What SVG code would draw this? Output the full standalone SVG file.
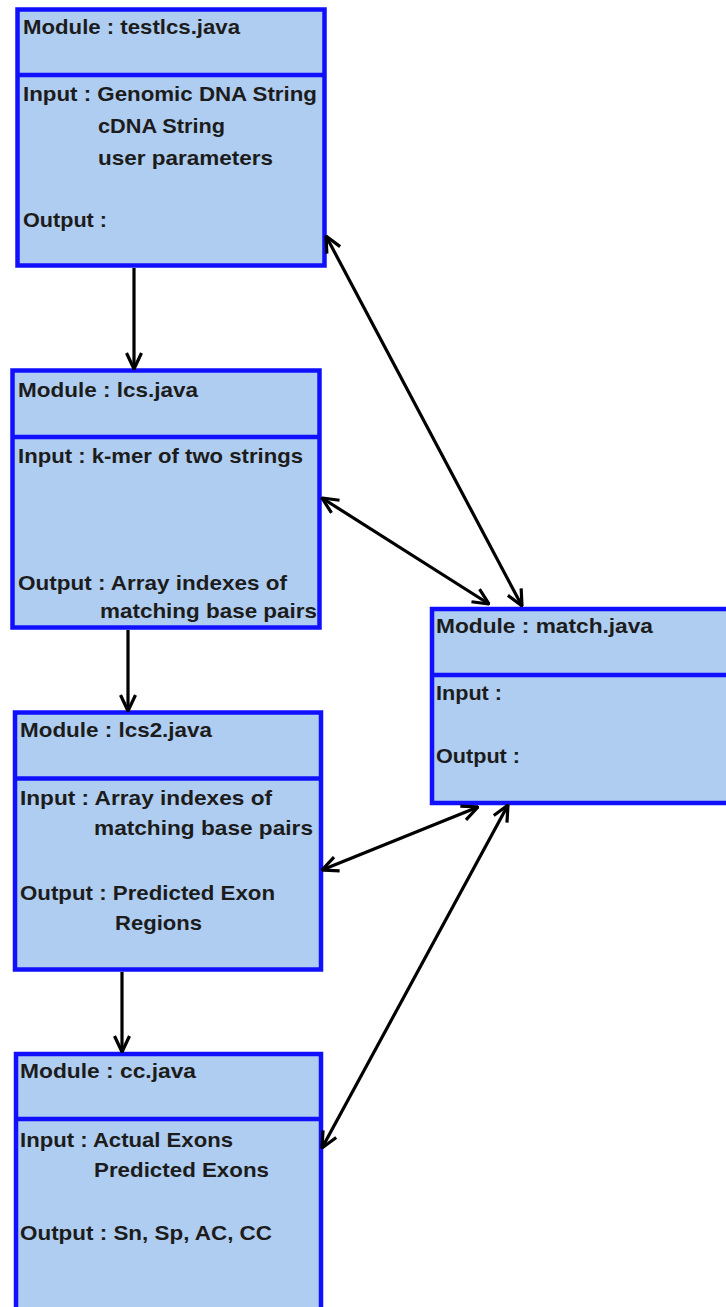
<svg xmlns="http://www.w3.org/2000/svg" width="726" height="1307" viewBox="0 0 726 1307">
<style>
.box{fill:#afcdf0;stroke:#1010ff;stroke-width:4.5}
.div{stroke:#1010ff;stroke-width:4.5}
text{font-family:"Liberation Sans",Arial,sans-serif;font-weight:bold;font-size:21px;fill:#1c1c1c}
.con line{stroke:#000;stroke-width:3.2}
</style>
<defs>
<marker id="ah" viewBox="0 0 18 18" refX="17" refY="9" markerWidth="18" markerHeight="18" markerUnits="userSpaceOnUse" orient="auto-start-reverse">
<path d="M1,1.5 L17,9 L1,16.5" fill="none" stroke="#000" stroke-width="3.2"/>
</marker>
</defs>
<rect width="726" height="1307" fill="#fff"/>
<g id="testlcs">
<rect class="box" x="17.5" y="9.5" width="307" height="256"/>
<line class="div" x1="17.5" y1="75" x2="324.5" y2="75"/>
<text x="23" y="34" textLength="217" lengthAdjust="spacingAndGlyphs">Module : testlcs.java</text>
<text x="23" y="101" textLength="294" lengthAdjust="spacingAndGlyphs">Input : Genomic DNA String</text>
<text x="98" y="133" textLength="127" lengthAdjust="spacingAndGlyphs">cDNA String</text>
<text x="98" y="165" textLength="175" lengthAdjust="spacingAndGlyphs">user parameters</text>
<text x="23" y="227" textLength="84" lengthAdjust="spacingAndGlyphs">Output :</text>
</g>
<g id="lcs">
<rect class="box" x="12.5" y="370.5" width="307" height="257"/>
<line class="div" x1="12.5" y1="437" x2="319.5" y2="437"/>
<text x="18" y="397" textLength="180" lengthAdjust="spacingAndGlyphs">Module : lcs.java</text>
<text x="18" y="463" textLength="285" lengthAdjust="spacingAndGlyphs">Input : k-mer of two strings</text>
<text x="18" y="590" textLength="269" lengthAdjust="spacingAndGlyphs">Output : Array indexes of</text>
<text x="100" y="618" textLength="217" lengthAdjust="spacingAndGlyphs">matching base pairs</text>
</g>
<g id="lcs2">
<rect class="box" x="15" y="712.5" width="306" height="257"/>
<line class="div" x1="15" y1="778.5" x2="321" y2="778.5"/>
<text x="20" y="737" textLength="192" lengthAdjust="spacingAndGlyphs">Module : lcs2.java</text>
<text x="20" y="805" textLength="252" lengthAdjust="spacingAndGlyphs">Input : Array indexes of</text>
<text x="94" y="835" textLength="219" lengthAdjust="spacingAndGlyphs">matching base pairs</text>
<text x="20" y="900" textLength="255" lengthAdjust="spacingAndGlyphs">Output : Predicted Exon</text>
<text x="115" y="930" textLength="87" lengthAdjust="spacingAndGlyphs">Regions</text>
</g>
<g id="cc">
<rect class="box" x="16" y="1054" width="305" height="270"/>
<line class="div" x1="16" y1="1119" x2="321" y2="1119"/>
<text x="20" y="1078" textLength="176" lengthAdjust="spacingAndGlyphs">Module : cc.java</text>
<text x="20" y="1147" textLength="213" lengthAdjust="spacingAndGlyphs">Input : Actual Exons</text>
<text x="94" y="1177" textLength="175" lengthAdjust="spacingAndGlyphs">Predicted Exons</text>
<text x="20" y="1240" textLength="252" lengthAdjust="spacingAndGlyphs">Output : Sn, Sp, AC, CC</text>
</g>
<g id="match">
<rect class="box" x="432" y="609" width="310" height="194"/>
<line class="div" x1="432" y1="675" x2="742" y2="675"/>
<text x="436" y="633" textLength="217" lengthAdjust="spacingAndGlyphs">Module : match.java</text>
<text x="436" y="700" textLength="66" lengthAdjust="spacingAndGlyphs">Input :</text>
<text x="436" y="763" textLength="84" lengthAdjust="spacingAndGlyphs">Output :</text>
</g>
<g id="connectors" class="con">
<line x1="134" y1="268" x2="134" y2="369" marker-end="url(#ah)"/>
<line x1="128" y1="630" x2="128" y2="711" marker-end="url(#ah)"/>
<line x1="122" y1="972" x2="122" y2="1052" marker-end="url(#ah)"/>
<line x1="326" y1="236" x2="522" y2="606" marker-start="url(#ah)" marker-end="url(#ah)"/>
<line x1="322" y1="498" x2="489" y2="604" marker-start="url(#ah)" marker-end="url(#ah)"/>
<line x1="322" y1="870" x2="478" y2="807" marker-start="url(#ah)" marker-end="url(#ah)"/>
<line x1="322" y1="1148" x2="508" y2="805" marker-start="url(#ah)" marker-end="url(#ah)"/>
</g>
</svg>
